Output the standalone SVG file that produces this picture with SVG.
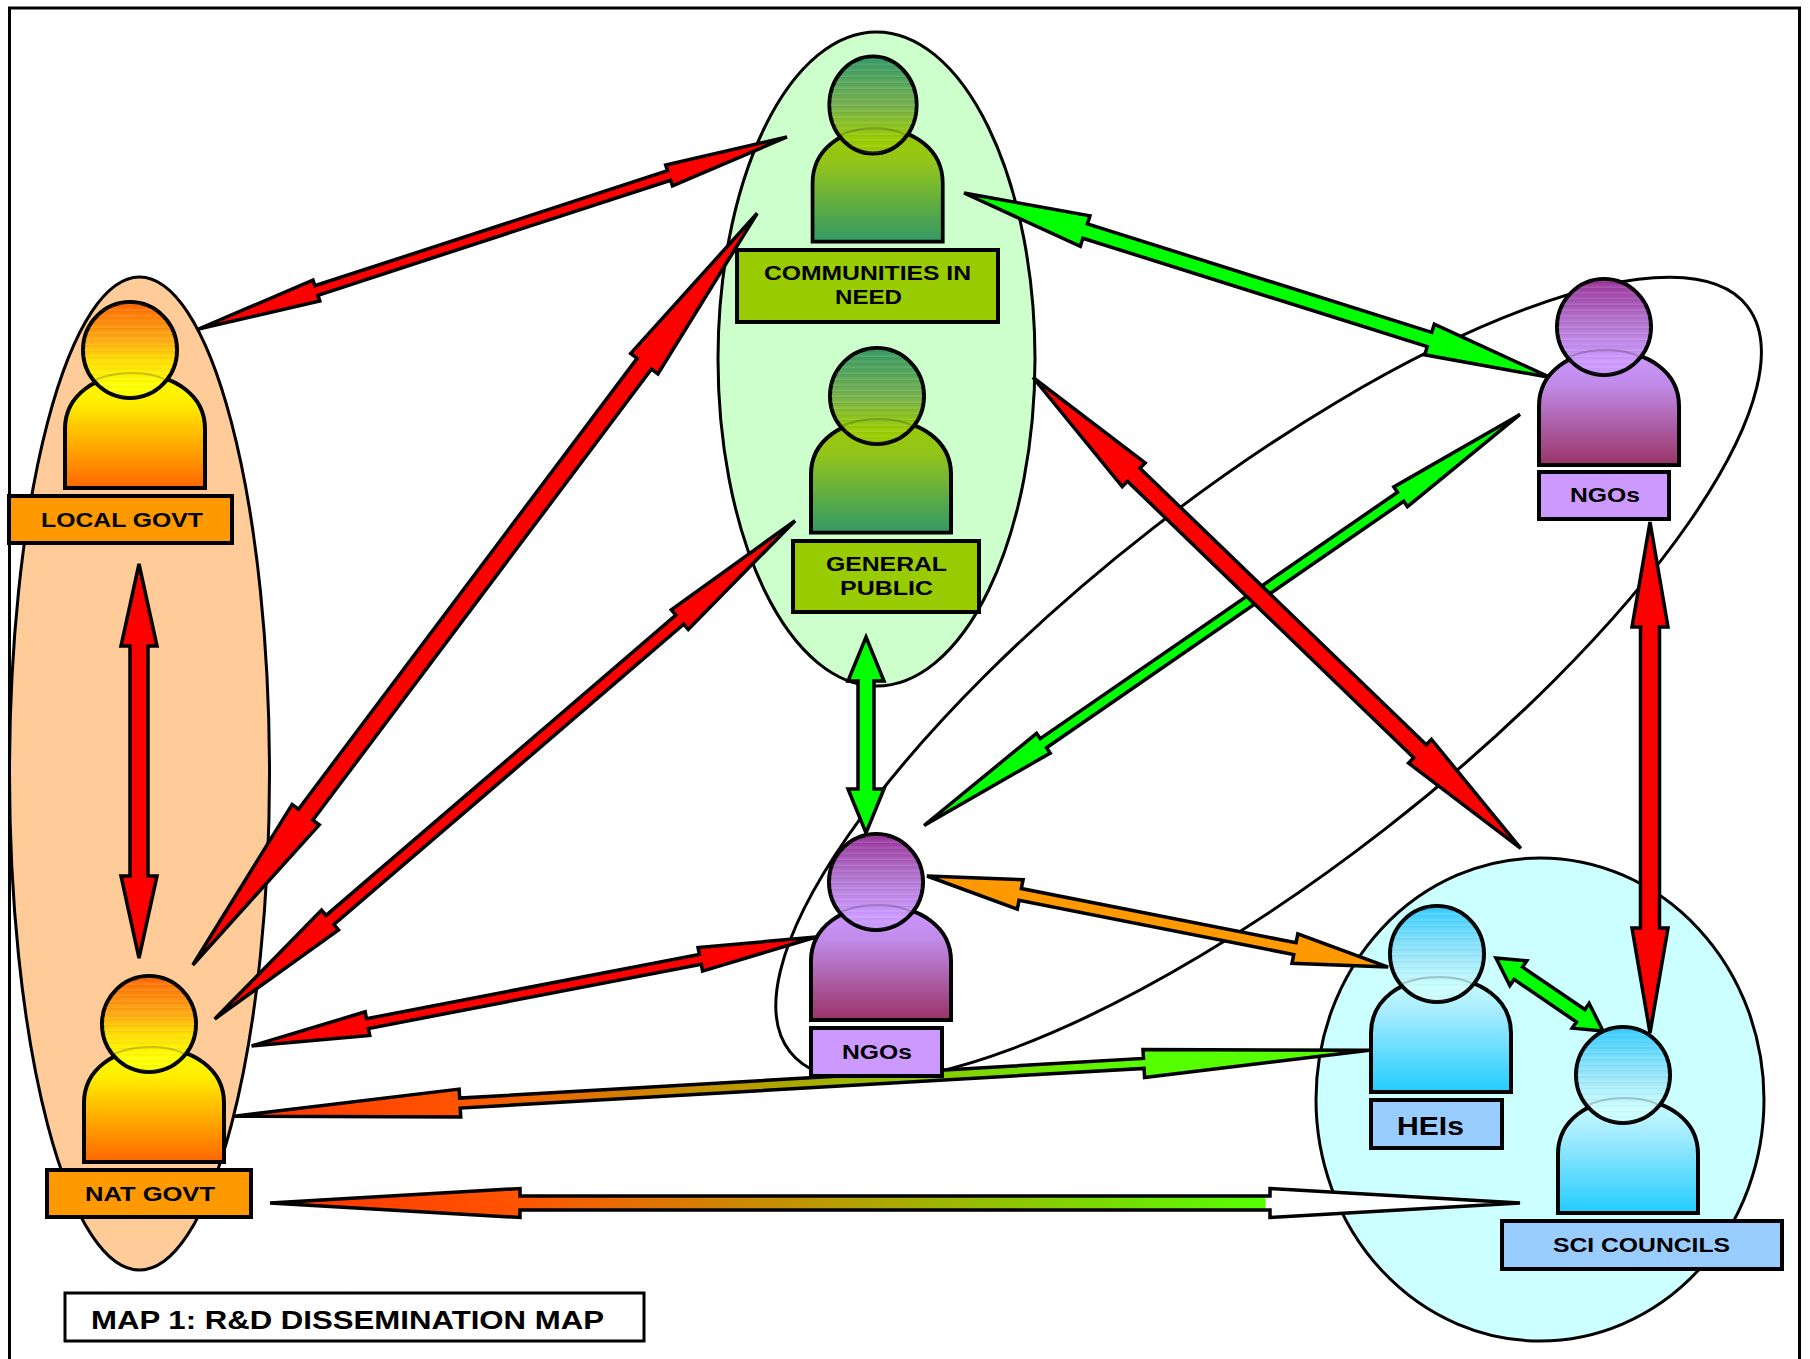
<svg xmlns="http://www.w3.org/2000/svg" width="1810" height="1359" viewBox="0 0 1810 1359">
<style>
.o{stroke:#000;stroke-width:3}
.a{stroke:#000;stroke-width:3.5;stroke-linejoin:miter}
.r{fill:#f00}.g{fill:#0f0}.y{fill:#f90}
.f{fill:none;stroke:#000;stroke-width:3}
.p{stroke:#000;stroke-width:4}
.l{stroke:#000;stroke-width:4}
.t{font-family:"Liberation Sans",Arial,sans-serif;font-weight:700;font-size:21px;fill:#000}
.arc{fill:none;stroke:#000;stroke-width:2;stroke-opacity:.2}
</style>
<defs>
<path id="body" d="M-65,138V79C-65,45-34,24 5,24C44,24 75,45 75,79V138Z"/>
<ellipse id="head" cx="0" cy="0" rx="47" ry="48"/>
<path id="arc" d="M-36,30C-20,24-10,23 4,23C14,23 24,24 36,30"/>
<linearGradient id="bO" x1="0" y1="0" x2="0" y2="1"><stop offset="0" stop-color="#ff0"/><stop offset=".25" stop-color="#fe0"/><stop offset="1" stop-color="#f60"/></linearGradient>
<linearGradient id="hO" x1="0" y1="0" x2="0" y2="1"><stop offset="0" stop-color="#f60"/><stop offset=".4" stop-color="#fa1"/><stop offset=".6" stop-color="#fd0"/><stop offset=".85" stop-color="#ff0"/><stop offset="1" stop-color="#ff0"/></linearGradient>
<linearGradient id="bG" x1="0" y1="0" x2="0" y2="1"><stop offset="0" stop-color="#9c0"/><stop offset=".3" stop-color="#93c41a"/><stop offset="1" stop-color="#396"/></linearGradient>
<linearGradient id="hG" x1="0" y1="0" x2="0" y2="1"><stop offset="0" stop-color="#396"/><stop offset=".5" stop-color="#75b04e"/><stop offset=".85" stop-color="#9c0"/><stop offset="1" stop-color="#9c0"/></linearGradient>
<linearGradient id="bP" x1="0" y1="0" x2="0" y2="1"><stop offset="0" stop-color="#c9f"/><stop offset=".3" stop-color="#c08ae8"/><stop offset="1" stop-color="#936"/></linearGradient>
<linearGradient id="hP" x1="0" y1="0" x2="0" y2="1"><stop offset="0" stop-color="#939"/><stop offset=".5" stop-color="#b57bd6"/><stop offset=".85" stop-color="#c9f"/><stop offset="1" stop-color="#c9f"/></linearGradient>
<linearGradient id="bB" x1="0" y1="0" x2="0" y2="1"><stop offset="0" stop-color="#cff"/><stop offset=".3" stop-color="#a6ecff"/><stop offset="1" stop-color="#2cf"/></linearGradient>
<linearGradient id="hB" x1="0" y1="0" x2="0" y2="1"><stop offset="0" stop-color="#3cf"/><stop offset=".5" stop-color="#99e6fb"/><stop offset=".85" stop-color="#cff"/><stop offset="1" stop-color="#cff"/></linearGradient>
<linearGradient id="bands" x1="0" y1="0" x2="0" y2=".06" spreadMethod="repeat"><stop offset="0" stop-color="#fff" stop-opacity="0"/><stop offset=".5" stop-color="#fff" stop-opacity=".12"/><stop offset=".6" stop-color="#000" stop-opacity=".04"/><stop offset="1" stop-color="#fff" stop-opacity="0"/></linearGradient>
<linearGradient id="gradA"><stop offset="0" stop-color="#f30"/><stop offset=".2" stop-color="#f50"/><stop offset=".8" stop-color="#5f0"/><stop offset="1" stop-color="#5f0"/></linearGradient>
<linearGradient id="gradB"><stop offset="0" stop-color="#f30"/><stop offset=".2" stop-color="#f50"/><stop offset=".796" stop-color="#5f0"/><stop offset=".797" stop-color="#fff"/><stop offset="1" stop-color="#fff"/></linearGradient>
</defs>
<rect width="1810" height="1359" fill="#fff"/>
<rect class="f" x="9.500" y="8" width="1790" height="1400"/>
<g id="groups">
<ellipse id="group-govt" class="o" cx="139.500" cy="773.500" rx="130" ry="496.500" fill="#fc9"/>
<ellipse id="group-public" class="o" cx="876.500" cy="359" rx="158.500" ry="327" fill="#cfc"/>
<ellipse id="group-science" class="o" cx="1540" cy="1099.500" rx="224" ry="241.500" fill="#cff"/>
<ellipse id="group-ngos" class="f" cx="0" cy="0" rx="606.700" ry="190" transform="translate(1268.600 679) rotate(-37.9)"/>
</g>
<g id="connectors">
<polygon class="a r" transform="translate(198.500 329) rotate(-18.07)" points="0,0 124,-11 124,-5 495,-5 495,-11 619,0 495,11 495,5 124,5 124,11"/>
<polygon class="a r" transform="translate(192.800 965) rotate(-53.1)" points="0,0 188,-17 188,-9 752,-9 752,-17 940,0 752,17 752,9 188,9 188,17"/>
<polygon class="a r" transform="translate(214.700 1019) rotate(-40.65)" points="0,0 152,-13 152,-6 613,-6 613,-13 765,0 613,13 613,6 152,6 152,13"/>
<polygon class="a r" transform="translate(139 564) rotate(90)" points="0,0 82,-18 82,-9 312,-9 312,-18 394,0 312,18 312,9 82,9 82,18"/>
<polygon class="a r" transform="translate(251.600 1046) rotate(-10.93)" points="0,0 118,-12 118,-5 457,-5 457,-12 575,0 457,12 457,5 118,5 118,12"/>
<polygon class="a g" transform="translate(964 193) rotate(17.47)" points="0,0 127,-16 127,-7.500 488,-7.500 488,-16 615,0 488,16 488,7.500 127,7.500 127,16"/>
<polygon class="a g" transform="translate(1520 414.400) rotate(145.4)" points="0,0 145,-12 145,-5.500 579,-5.500 579,-12 724,0 579,12 579,5.500 145,5.500 145,12"/>
<polygon class="a r" transform="translate(1033 377.500) rotate(44)" points="0,0 140,-16.500 140,-9 538,-9 538,-16.500 678,0 538,16.500 538,9 140,9 140,16.500"/>
<polygon class="a r" transform="translate(1650 522) rotate(90)" points="0,0 105,-18 105,-9.500 406,-9.500 406,-18 511,0 406,18 406,9.500 105,9.500 105,18"/>
<polygon class="a g" transform="translate(866 637) rotate(90)" points="0,0 44,-18 44,-8 152,-8 152,-18 196,0 152,18 152,8 44,8 44,18"/>
<polygon class="a y" transform="translate(927 876) rotate(11.17)" points="0,0 95,-15 95,-6 375,-6 375,-15 470,0 375,15 375,6 95,6 95,15"/>
<polygon class="a g" transform="translate(1496 958) rotate(34.3)" points="0,0 27,-15 27,-7.500 102.500,-7.500 102.500,-15 129.500,0 102.500,15 102.500,7.500 27,7.500 27,15"/>
<polygon class="a" fill="url(#gradA)" transform="translate(234.300 1116.200) rotate(-3.32)" points="0,0 226,-14 226,-5 911,-5 911,-14 1137,0 911,14 911,5 226,5 226,14"/>
<polygon class="a" fill="url(#gradB)" transform="translate(270 1203)" points="0,0 250,-14.500 250,-7 1000,-7 1000,-14.500 1250,0 1000,14.500 1000,7 250,7 250,14.500"/>
</g>
<g id="local-govt">
<use href="#body" class="p" fill="url(#bO)" transform="translate(130 350)"/>
<use href="#head" class="p" fill="url(#hO)" transform="translate(130 350)"/>
<use href="#head" fill="url(#bands)" transform="translate(130 350)"/>
<use href="#arc" class="arc" transform="translate(130 350)"/>
<rect class="l" x="9" y="496" width="223" height="47" fill="#f90"/>
<text class="t" x="41" y="527" textLength="162" lengthAdjust="spacingAndGlyphs">LOCAL GOVT</text>
</g>
<g id="nat-govt">
<use href="#body" class="p" fill="url(#bO)" transform="translate(149 1024)"/>
<use href="#head" class="p" fill="url(#hO)" transform="translate(149 1024)"/>
<use href="#head" fill="url(#bands)" transform="translate(149 1024)"/>
<use href="#arc" class="arc" transform="translate(149 1024)"/>
<rect class="l" x="47" y="1170" width="204" height="47" fill="#f90"/>
<text class="t" x="85" y="1201" textLength="130" lengthAdjust="spacingAndGlyphs">NAT GOVT</text>
</g>
<g id="communities">
<use href="#body" class="p" fill="url(#bG)" transform="translate(873 105) scale(.93 .99)"/>
<use href="#head" class="p" fill="url(#hG)" transform="translate(873 105) scale(.93 1.01)"/>
<use href="#head" fill="url(#bands)" transform="translate(873 105) scale(.93 1.01)"/>
<use href="#arc" class="arc" transform="translate(873 105) scale(.93 1.01)"/>
<rect class="l" x="737" y="250" width="261" height="72" fill="#9c0"/>
<text class="t" x="764" y="280" textLength="207" lengthAdjust="spacingAndGlyphs">COMMUNITIES IN</text>
<text class="t" x="835" y="304" textLength="67" lengthAdjust="spacingAndGlyphs">NEED</text>
</g>
<g id="general-public">
<use href="#body" class="p" fill="url(#bG)" transform="translate(876 396) scale(1 .99)"/>
<use href="#head" class="p" fill="url(#hG)" transform="translate(877 396)"/>
<use href="#head" fill="url(#bands)" transform="translate(877 396)"/>
<use href="#arc" class="arc" transform="translate(877 396)"/>
<rect class="l" x="793" y="541" width="186" height="71" fill="#9c0"/>
<text class="t" x="826" y="571" textLength="121" lengthAdjust="spacingAndGlyphs">GENERAL</text>
<text class="t" x="840" y="595" textLength="93" lengthAdjust="spacingAndGlyphs">PUBLIC</text>
</g>
<g id="ngos-centre">
<use href="#body" class="p" fill="url(#bP)" transform="translate(876 882)"/>
<use href="#head" class="p" fill="url(#hP)" transform="translate(876 882)"/>
<use href="#head" fill="url(#bands)" transform="translate(876 882)"/>
<use href="#arc" class="arc" transform="translate(876 882)"/>
<rect class="l" x="811" y="1028" width="131" height="48" fill="#c9f"/>
<text class="t" x="842" y="1059" textLength="70" lengthAdjust="spacingAndGlyphs">NGOs</text>
</g>
<g id="ngos-right">
<use href="#body" class="p" fill="url(#bP)" transform="translate(1604 327)"/>
<use href="#head" class="p" fill="url(#hP)" transform="translate(1604 327)"/>
<use href="#head" fill="url(#bands)" transform="translate(1604 327)"/>
<use href="#arc" class="arc" transform="translate(1604 327)"/>
<rect class="l" x="1539" y="472" width="130" height="47" fill="#c9f"/>
<text class="t" x="1570" y="502" textLength="70" lengthAdjust="spacingAndGlyphs">NGOs</text>
</g>
<g id="heis">
<use href="#body" class="p" fill="url(#bB)" transform="translate(1436 954)"/>
<use href="#head" class="p" fill="url(#hB)" transform="translate(1437 954)"/>
<use href="#head" fill="url(#bands)" transform="translate(1437 954)"/>
<use href="#arc" class="arc" transform="translate(1437 954)"/>
<rect class="l" x="1371" y="1100" width="131" height="48" fill="#9cf"/>
<text class="t" style="font-size:26.500px" x="1397" y="1135" textLength="67" lengthAdjust="spacingAndGlyphs">HEIs</text>
</g>
<g id="sci-councils">
<use href="#body" class="p" fill="url(#bB)" transform="translate(1623 1075)"/>
<use href="#head" class="p" fill="url(#hB)" transform="translate(1623 1075)"/>
<use href="#head" fill="url(#bands)" transform="translate(1623 1075)"/>
<use href="#arc" class="arc" transform="translate(1623 1075)"/>
<rect class="l" x="1502" y="1221" width="280" height="48" fill="#9cf"/>
<text class="t" x="1553" y="1252" textLength="177" lengthAdjust="spacingAndGlyphs">SCI COUNCILS</text>
</g>
<g id="map-title">
<rect x="65" y="1293" width="579" height="48" fill="#fff" stroke="#000" stroke-width="3"/>
<text class="t" style="font-size:26px" x="91" y="1329" textLength="513" lengthAdjust="spacingAndGlyphs">MAP 1: R&amp;D DISSEMINATION MAP</text>
</g>
</svg>
